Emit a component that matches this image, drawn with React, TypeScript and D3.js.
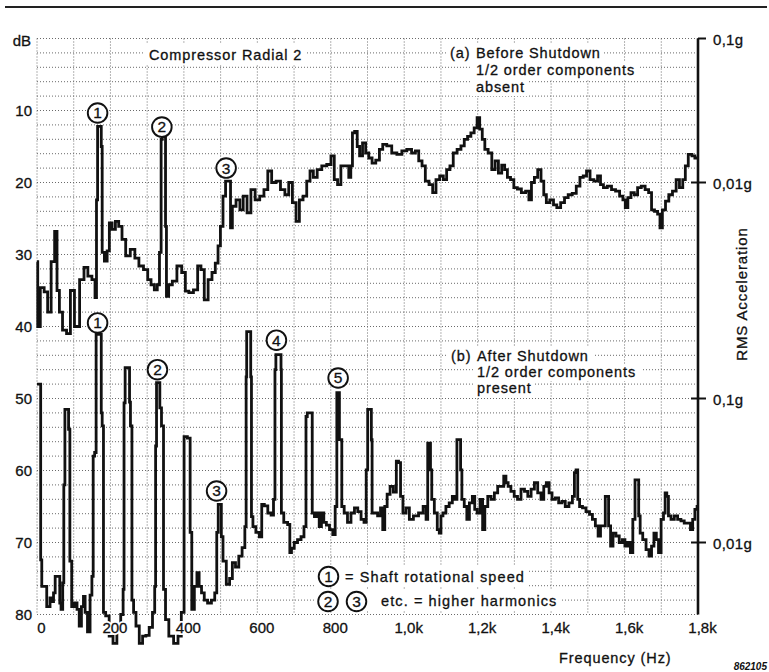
import React from 'react';
import * as d3 from 'd3';

// ---------- data ----------
const freqTicks = [0, 200, 400, 600, 800, 1000, 1200, 1400, 1600, 1800];
const freqTickLabels = ['0', '200', '400', '600', '800', '1,0k', '1,2k', '1,4k', '1,6k', '1,8k'];
const dbTicks = [10, 20, 30, 40, 50, 60, 70, 80];
const accelTickDb = [0, 20, 50, 70];
const accelTickLabels = ['0,1g', '0,01g', '0,1g', '0,01g'];

// (a) Before shutdown  [Hz, dB]
const seriesBefore: [number, number][] = [
  [0,31],[4,40],[14,34.6],[25,35.2],[33,38],[44,31],[52,26.8],[57,35],[65,38],[74,40.5],[87,41],[95,35],[109,40],[123,33.5],[133,31.8],[144,33],[155,33.5],[161,36],[163,22.4],[167,12.2],[174,12.2],[176,15],[179,29.7],[188,30.9],[194,29.5],[200,25.6],[209,26.5],[218,25.4],[227,26.1],[236,27.9],[247,30.2],[261,29.3],[272,30.5],[283,31.6],[297,32.1],[306,33.5],[315,34.2],[324,34.9],[331,34.2],[336,29.7],[340,14],[342,13.6],[349,13.6],[351,26.1],[354,35.8],[363,34.2],[374,33.7],[388,31.6],[400,32.5],[408,35.1],[419,35.3],[433,34.9],[442,31.6],[451,32.1],[460,36.3],[472,33.5],[481,32.5],[490,31.2],[496,28.8],[503,26.1],[510,21.9],[517,19.8],[526,19.8],[528,26.3],[536,23.3],[548,22.4],[557,23.8],[566,21.9],[578,24.2],[587,21],[601,22.4],[612,21.9],[624,21],[633,18.4],[645,20],[657,19.8],[669,21],[681,21.7],[690,20],[701,22.8],[710,25.4],[719,22.4],[730,21.9],[739,19.8],[748,18.4],[757,19.3],[769,18.2],[782,17.7],[796,17.5],[805,16.3],[814,19.6],[823,20.3],[832,17.7],[846,17.7],[852,19.3],[857,17.7],[861,13.1],[869,12.9],[875,15],[882,16.3],[891,14.5],[899,15.9],[908,16.6],[917,17.3],[928,16.9],[937,15.4],[946,14.7],[959,14.9],[973,15.9],[987,16.1],[1000,15.6],[1014,15.4],[1026,15.9],[1035,15.6],[1044,17],[1053,17.7],[1062,19.8],[1073,20.3],[1082,21.4],[1091,19.6],[1102,19.1],[1111,19.6],[1120,18.2],[1129,17.7],[1138,15.9],[1150,15.4],[1159,14.9],[1168,14],[1177,13.6],[1186,13.1],[1195,12.4],[1202,11],[1209,12.6],[1216,14],[1223,15.4],[1234,15.9],[1243,18.2],[1252,17],[1261,18.7],[1270,17.6],[1277,18.2],[1285,19.3],[1294,19.6],[1303,20.7],[1313,20.9],[1325,21.4],[1336,21.2],[1343,22.4],[1350,20],[1359,19.3],[1368,18.2],[1377,19.8],[1383,21.7],[1391,22.8],[1402,22.4],[1411,23.1],[1420,23.5],[1432,22.8],[1441,22.1],[1452,21.7],[1463,21.5],[1474,20.5],[1483,19.3],[1492,19.1],[1501,18.4],[1511,19.6],[1522,19.8],[1531,19.1],[1538,20.3],[1547,20.7],[1559,20.5],[1570,21],[1581,21.2],[1592,21.9],[1599,22.4],[1605,23.5],[1613,22.1],[1622,21.4],[1631,21.7],[1640,20.7],[1651,20.5],[1661,21],[1670,21.4],[1677,23.8],[1686,24],[1694,24.4],[1699,26.3],[1707,23.8],[1716,22.6],[1725,21.7],[1736,21.2],[1745,19.6],[1754,20.7],[1763,19.6],[1768,17.7],[1779,16.1],[1788,16.3],[1795,16.6],[1800,16.6]
];

// (b) After shutdown  [Hz, dB]
const seriesAfter: [number, number][] = [
  [0,48],[9,48],[11,72.4],[15,76.1],[24,76.1],[29,78.9],[33,78.9],[38,77.7],[43,78.2],[47,77],[52,74.7],[61,74.7],[63,78.4],[68,79.3],[72,75.6],[74,62],[78,51.5],[85,51.5],[87,54.3],[92,72.6],[97,78.9],[106,78.4],[112,79.3],[118,81.6],[124,78.9],[129,77.5],[133,79.7],[142,82.4],[147,77.3],[152,74.7],[154,58],[160,57.5],[162,41.1],[174,41.1],[176,52],[179,53.8],[183,79.7],[191,80.2],[202,83],[212,84],[223,82],[233,80],[236,76.5],[238,50.6],[242,45.7],[251,45.7],[253,50.5],[256,53.8],[261,78],[265,79.7],[274,81.6],[283,84],[292,83],[301,82.9],[310,81.8],[319,79.7],[322,76.1],[324,56.6],[327,47.8],[333,47.8],[336,51.3],[342,53.8],[347,76.5],[353,80.7],[365,83],[379,84],[389,83],[397,79.7],[404,55.3],[415,55.5],[419,68.6],[424,79.3],[433,76.1],[438,74.2],[445,76.1],[451,77],[460,78],[469,78.4],[481,78],[487,77],[492,68.6],[495,64.7],[501,64.7],[503,69.2],[510,72.6],[521,75.8],[528,75],[536,72.8],[545,73.4],[554,71.9],[563,70.7],[569,67.8],[570,47],[572,40.7],[581,40.7],[583,47],[585,66.4],[591,67.8],[601,68.6],[610,69.2],[614,64.7],[624,64.9],[633,65.9],[642,66.2],[646,64],[650,46],[651,43.9],[664,43.9],[665,46],[666,65.9],[678,67.2],[687,67.5],[690,71.4],[696,70.8],[705,70],[714,69.6],[724,69.2],[730,67.8],[735,52.5],[737,52],[748,52],[751,65.9],[760,66.4],[766,65.9],[771,67.8],[778,65.9],[784,67.2],[792,67.6],[801,68.2],[810,68.9],[814,65],[819,49.2],[828,55.7],[832,65],[841,65.9],[850,67.2],[860,65.9],[869,65.2],[878,65.7],[887,66.8],[894,67.2],[899,59.9],[902,51.5],[910,51.5],[911,55.7],[914,65.9],[923,65.9],[932,66.3],[939,65.2],[944,68.2],[950,65],[957,63.3],[966,62.2],[975,63],[982,58.7],[987,58.9],[993,63.6],[1000,65.9],[1010,65.2],[1018,66.8],[1032,66.3],[1046,65.9],[1057,65],[1062,66.8],[1066,56.2],[1070,56.2],[1073,59.9],[1077,64],[1087,65.9],[1093,68.2],[1098,68.7],[1102,66.3],[1109,65.9],[1118,65],[1127,64.5],[1135,63.6],[1141,64],[1146,55.7],[1152,55.7],[1155,59.9],[1159,64],[1168,65],[1173,66.8],[1182,64.5],[1189,63.6],[1195,65.4],[1202,65.9],[1211,64],[1216,68.2],[1223,65],[1232,63.6],[1241,64],[1250,63.1],[1259,62.2],[1268,62.2],[1274,60.8],[1280,61.7],[1286,62.2],[1295,62.9],[1304,63.6],[1313,64],[1323,62.6],[1332,62.9],[1341,63.6],[1350,62.6],[1359,61.7],[1368,63.1],[1377,64],[1383,62.2],[1391,61.7],[1398,63.1],[1407,64],[1416,63.8],[1425,64.5],[1434,64.3],[1443,65],[1454,64.5],[1462,63.6],[1465,60.3],[1471,59.9],[1474,64],[1481,65],[1490,65.2],[1500,65.7],[1509,66.1],[1516,66.8],[1525,67.7],[1531,69.1],[1538,67.7],[1545,67.7],[1550,63.6],[1554,63.6],[1559,67.7],[1565,70.5],[1572,68.7],[1581,69.1],[1590,70],[1598,69.6],[1604,70.5],[1613,70],[1619,71.4],[1626,66.8],[1631,61.3],[1637,61.3],[1640,66.3],[1645,68.7],[1654,69.6],[1663,71],[1670,71.9],[1677,70.5],[1683,68.7],[1690,69.6],[1695,71.4],[1704,66.8],[1708,65.9],[1713,63.1],[1717,63.6],[1722,66.3],[1731,66.8],[1740,66.3],[1749,66.8],[1758,67],[1767,67.3],[1776,67.3],[1783,68.2],[1788,66.8],[1795,65.4],[1800,65]
];

// circled harmonic markers, in data coordinates [label, Hz, dB]
const peakMarkers: [string, number, number][] = [
  ['1', 165, 10.35], ['2', 340, 12.3], ['3', 515, 18.0],
  ['1', 165, 39.5], ['2', 328, 46.0], ['3', 489, 62.85], ['4', 652, 41.9], ['5', 820, 47.15],
];

const FONT = '"Liberation Sans", Arial, Helvetica, sans-serif';

function Circled({ cx, cy, label }: { cx: number; cy: number; label: string }) {
  return (
    <g>
      <circle cx={cx} cy={cy} r={9.8} fill="white" stroke="#111" strokeWidth={1.9} />
      <text x={cx} y={cy + 5.4} textAnchor="middle" fontSize={15.5} fontFamily={FONT} fill="#111"
        stroke="#111" strokeWidth={0.3}>{label}</text>
    </g>
  );
}

export default function App() {
  const W = 769, H = 672;
  const x = d3.scaleLinear().domain([0, 1800]).range([37, 698]);
  const y = d3.scaleLinear().domain([0, 80]).range([38.5, 614.5]);
  const line = d3.line<[number, number]>().x(d => x(d[0])).y(d => y(d[1])).curve(d3.curveStep);

  const hGrid = d3.range(0, 81, 2);
  const vGrid = d3.range(0, 1800, 100);

  const txt = { fontFamily: FONT, fill: '#111', fontSize: 14.5, letterSpacing: 0.9, stroke: '#111', strokeWidth: 0.3 } as any;

  const boxes = [
    [145, 44, 160, 21],
    [446, 44, 156, 18], [472, 62, 168, 17], [472, 79, 56, 17],
    [447, 346, 146, 18], [473, 364, 170, 17], [473, 381, 60, 17],
    [316, 565, 212, 22], [316, 590, 246, 21],
  ];

  return (
    <svg width={W} height={H} viewBox={`0 0 ${W} ${H}`} style={{ position: 'absolute', left: 0, top: 0, background: 'white' }}>
      <rect x={0} y={0} width={W} height={H} fill="white" />
      {/* top rule */}
      <line x1={5} x2={767} y1={7} y2={7} stroke="#222" strokeWidth={2} />

      {/* grid */}
      <g stroke="#6a6a6a" strokeWidth={1} strokeDasharray="1 2">
        {hGrid.map(d => <line key={'h' + d} x1={x(0)} x2={x(1800)} y1={y(d)} y2={y(d)} />)}
        {vGrid.map(d => <line key={'v' + d} x1={x(d)} x2={x(d)} y1={y(0)} y2={y(80)} />)}
      </g>

      {/* white areas behind annotation text */}
      {boxes.map((b, i) => <rect key={'b' + i} x={b[0]} y={b[1]} width={b[2]} height={b[3]} fill="white" />)}

      {/* right acceleration axis */}
      <line x1={x(1800)} x2={x(1800)} y1={y(0)} y2={y(80)} stroke="#111" strokeWidth={2.6} />
      {accelTickDb.map((d, i) => (
        <g key={'a' + i}>
          <line x1={i === 0 ? x(1800) : x(1800) - 7} x2={x(1800) + 8} y1={y(d)} y2={y(d)} stroke="#111" strokeWidth={2} />
          <text x={713} y={y(d) + 6.5} fontSize={15} fontFamily={FONT} fill="#111" letterSpacing={0.3}
            stroke="#111" strokeWidth={0.3}>{accelTickLabels[i]}</text>
        </g>
      ))}

      {/* curves */}
      <path d={line(seriesBefore) || ''} fill="none" stroke="#111" strokeWidth={2.8} strokeLinejoin="miter" />
      <path d={line(seriesAfter) || ''} fill="none" stroke="#111" strokeWidth={2.8} strokeLinejoin="miter" />

      {/* left axis labels */}
      <text x={31} y={46} textAnchor="end" fontFamily={FONT} fill="#111" fontSize={15} stroke="#111" strokeWidth={0.3}>dB</text>
      {dbTicks.map(d => (
        <g key={'y' + d}>
          <text x={32} y={y(d) + 5.5} textAnchor="end" fontFamily={FONT} fontSize={15}
            fill="white" stroke="white" strokeWidth={4}>{d}</text>
          <text x={32} y={y(d) + 5.5} textAnchor="end" fontFamily={FONT} fontSize={15}
            fill="#111" stroke="#111" strokeWidth={0.3}>{d}</text>
        </g>
      ))}
      {freqTicks.map((f, i) => (
        <g key={'x' + f}>
          <text x={x(f) + 4.5} y={633} textAnchor="middle" fontFamily={FONT} fontSize={15}
            fill="white" stroke="white" strokeWidth={4}>{freqTickLabels[i]}</text>
          <text x={x(f) + 4.5} y={633} textAnchor="middle" fontFamily={FONT} fontSize={15}
            fill="#111" stroke="#111" strokeWidth={0.3}>{freqTickLabels[i]}</text>
        </g>
      ))}

      {/* titles */}
      <text x={149} y={60} {...txt}>Compressor Radial 2</text>
      <text x={450} y={58} {...txt}>(a)</text>
      <text x={476} y={58} {...txt}>Before Shutdown</text>
      <text x={476} y={75} {...txt}>1/2 order components</text>
      <text x={476} y={92} {...txt}>absent</text>

      <text x={451} y={361} {...txt}>(b)</text>
      <text x={477} y={361} {...txt}>After Shutdown</text>
      <text x={477} y={377} {...txt}>1/2 order components</text>
      <text x={477} y={393} {...txt}>present</text>

      {/* markers */}
      {peakMarkers.map((m, i) => <Circled key={'m' + i} cx={x(m[1])} cy={y(m[2])} label={m[0]} />)}

      {/* legend */}
      <Circled cx={328.5} cy={576.5} label="1" />
      <text x={345} y={582} {...txt} letterSpacing={1.1}>= Shaft rotational speed</text>
      <Circled cx={328} cy={601.5} label="2" />
      <Circled cx={356.5} cy={601.5} label="3" />
      <text x={381} y={606} {...txt} letterSpacing={1.1}>etc. = higher harmonics</text>

      {/* axis titles */}
      <text transform="translate(747,294) rotate(-90)" textAnchor="middle" {...txt} fontSize={15}>RMS Acceleration</text>
      <text x={559} y={663} {...txt}>Frequency (Hz)</text>
      <text x={767} y={670} textAnchor="end" fontFamily={FONT} fontSize={10} fontStyle="italic" fontWeight="bold" fill="#111">862105</text>
    </svg>
  );
}
